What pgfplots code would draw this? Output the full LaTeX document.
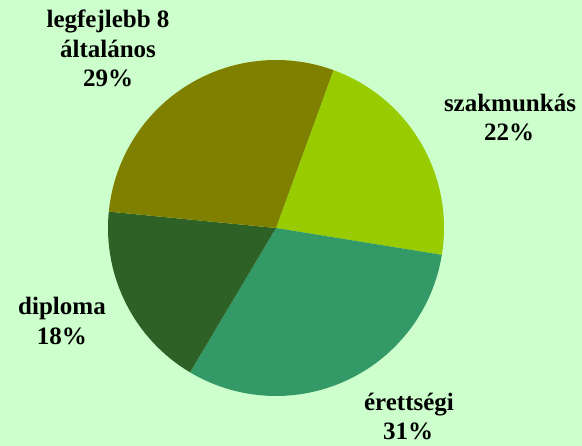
\documentclass[border=0pt]{standalone}
\usepackage{fontspec}
\setmainfont{Liberation Serif}
\usepackage{pgfplots}
\usepackage{pgfplotstable}
\pgfplotsset{compat=1.18}
\definecolor{bg}{HTML}{CCFFCC}
\definecolor{slice0}{HTML}{99CC00}
\definecolor{slice1}{HTML}{339966}
\definecolor{slice2}{HTML}{2E6125}
\definecolor{slice3}{HTML}{808000}
\pgfplotstableread[col sep=comma]{
label,value
szakmunkás,22
érettségi,31
diploma,18
legfejlebb 8 általános,29
}\piedata
\begin{document}
\begin{tikzpicture}
\begin{axis}[
  width=582pt, height=446pt, scale only axis,
  xmin=0, xmax=582, ymin=0, ymax=446,
  hide axis, clip=false,
]
\fill[bg] (axis cs:0,0) rectangle (axis cs:582,446);
\def\startang{70}
\pgfplotsforeachungrouped \i in {0,...,3}{%
  \pgfplotstablegetelem{\i}{value}\of\piedata
  \pgfmathsetmacro\endang{\startang-3.6*\pgfplotsretval}%
  \edef\tmp{\noexpand\fill[slice\i] (axis cs:276,218) -- ([shift={(\startang:168pt)}]axis cs:276,218) arc[start angle=\startang, end angle=\endang, radius=168pt] -- cycle;}%
  \tmp
  \global\let\startang\endang
}
\begin{scope}[every node/.style={anchor=base, font=\fontsize{25}{30}\selectfont\bfseries, inner sep=0pt}]
\node at (axis cs:108,418) {legfejlebb 8};
\node at (axis cs:108,388) {általános};
\node at (axis cs:108,359) {29\%};
\node at (axis cs:510,334) {szakmunkás};
\node at (axis cs:509,305) {22\%};
\node at (axis cs:409,35) {érettségi};
\node at (axis cs:408,6) {31\%};
\node at (axis cs:62,131) {diploma};
\node at (axis cs:62,101) {18\%};
\end{scope}
\end{axis}
\end{tikzpicture}
\end{document}
